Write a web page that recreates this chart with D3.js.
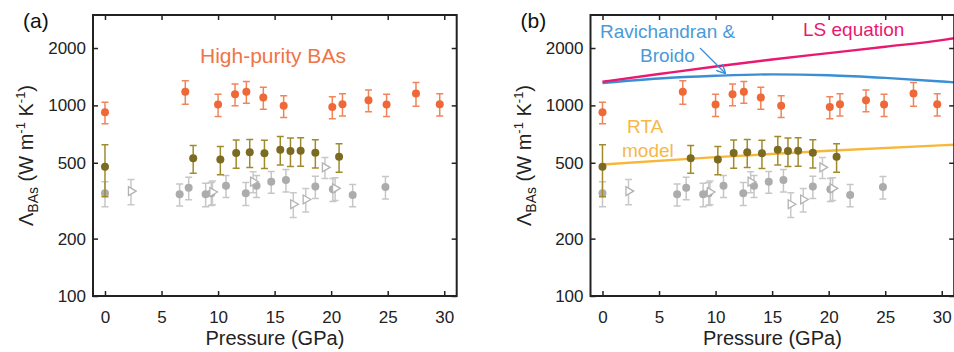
<!DOCTYPE html>
<html>
<head>
<meta charset="utf-8">
<script src="https://cdn.jsdelivr.net/npm/d3@7"></script>
<style>
  html, body { margin: 0; padding: 0; background: #fff; }
  svg { display: block; font-family: "Liberation Sans", Arial, sans-serif; }
</style>
</head>
<body>
<script>
// Thermal conductivity of BAs vs pressure, two panels sharing the same data

const pressureTicks = [0, 5, 10, 15, 20, 25, 30];
const kappaTicks = [100, 200, 500, 1000, 2000];

// high-purity BAs (orange)
const orangeP = [0, 7.1, 10.0, 11.5, 12.5, 14.0, 15.8, 20.1, 21.0, 23.3, 24.9, 27.5, 29.6];
const orangeK = [920, 1180, 1010, 1145, 1180, 1100, 995, 980, 1015, 1065, 1010, 1155, 1015];
const orangeErr = [120, 165, 135, 150, 155, 145, 130, 130, 135, 140, 135, 165, 135];

// olive series
const oliveP = [0, 7.8, 10.2, 11.6, 12.8, 14.1, 15.5, 16.4, 17.3, 18.6, 20.7];
const oliveK = [477, 528, 520, 563, 567, 561, 586, 576, 578, 565, 538];
const oliveErr = [145, 88, 88, 95, 95, 95, 100, 98, 98, 95, 92];

// grey filled circles
const greyP = [0, 6.6, 7.4, 8.9, 9.4, 10.7, 12.45, 13.4, 14.7, 16.0, 18.6, 20.15, 21.9, 24.8];
const greyK = [346, 342, 370, 342, 346, 379, 346, 379, 398, 406, 375, 363, 339, 373];
const greyErr = [52, 45, 50, 48, 48, 50, 48, 50, 52, 55, 50, 50, 45, 50];

// grey open triangles
const triP = [2.3, 9.5, 13.1, 16.65, 17.75, 19.45, 20.35];
const triK = [355, 351, 398, 303, 321, 473, 367];
const triErr = [54, 50, 50, 45, 45, 60, 50];

// model curves (panel b)
const lsP = [0, 5, 10, 15, 20, 25, 30, 31.1];
const lsK = [1330, 1460, 1600, 1740, 1880, 2030, 2200, 2250];
const rbP = [0, 5, 10, 15, 20, 25, 30, 31.1];
const rbK = [1310, 1385, 1430, 1455, 1440, 1395, 1335, 1320];
const rtaP = [0, 10, 20, 31.1];
const rtaK = [490, 535, 578, 622];

const W = 954, H = 352;
const plotW = 363.7, plotTop = 15, plotBottom = 296;

const svg = d3.select("body").append("svg")
  .attr("width", W).attr("height", H);

const x = d3.scaleLinear().domain([-1.06, 31.1]).range([0, plotW]);
const y = d3.scaleLog().domain([100, 2980]).range([plotBottom, plotTop]);

const zip = (ps, ks, es) => ps.map((p, i) => ({ p, k: ks[i], e: es ? es[i] : 0 }));

function errorBars(g, data, color) {
  const cap = 3.5;
  const eb = g.append("g").attr("stroke", color).attr("stroke-width", 1.5).attr("fill", "none");
  data.forEach((d) => {
    const x0 = x(d.p), yt = y(d.k + d.e), yb = y(d.k - d.e);
    eb.append("line").attr("x1", x0).attr("x2", x0).attr("y1", yt).attr("y2", yb);
    eb.append("line").attr("x1", x0 - cap).attr("x2", x0 + cap).attr("y1", yt).attr("y2", yt);
    eb.append("line").attr("x1", x0 - cap).attr("x2", x0 + cap).attr("y1", yb).attr("y2", yb);
  });
}

function circles(g, data, color) {
  g.append("g").selectAll("circle").data(data).join("circle")
    .attr("cx", (d) => x(d.p)).attr("cy", (d) => y(d.k))
    .attr("r", 4).attr("fill", color);
}

function drawPanel(left, label, withModels) {
  const g = svg.append("g").attr("transform", `translate(${left},0)`);

  const clip = "clip-" + label;
  g.append("clipPath").attr("id", clip)
    .append("rect").attr("x", 0).attr("y", plotTop).attr("width", plotW).attr("height", plotBottom - plotTop);

  // axes with inward ticks
  const axFont = (sel) => sel.selectAll("text")
    .style("font-size", "17px").attr("fill", "#222");

  g.append("g").attr("transform", `translate(0,${plotBottom})`)
    .call(d3.axisBottom(x).tickValues(pressureTicks).tickSizeInner(-5).tickSizeOuter(0).tickPadding(15))
    .call((s) => s.select(".domain").remove())
    .call(axFont);
  g.append("g").attr("transform", `translate(0,${plotTop})`)
    .call(d3.axisTop(x).tickValues(pressureTicks).tickSizeInner(-5).tickSizeOuter(0).tickFormat(""))
    .call((s) => s.select(".domain").remove());
  g.append("g")
    .call(d3.axisLeft(y).tickValues(kappaTicks).tickFormat(d3.format("d")).tickSizeInner(-5).tickSizeOuter(0).tickPadding(7))
    .call((s) => s.select(".domain").remove())
    .call(axFont);
  g.append("g").attr("transform", `translate(${plotW},0)`)
    .call(d3.axisRight(y).tickValues(kappaTicks).tickSizeInner(-5).tickSizeOuter(0).tickFormat(""))
    .call((s) => s.select(".domain").remove());
  g.selectAll(".tick line").attr("stroke", "#222").attr("stroke-width", 1.5);

  const plot = g.append("g").attr("clip-path", `url(#${clip})`);

  if (withModels) {
    const line = d3.line().x((d) => x(d.p)).y((d) => y(d.k)).curve(d3.curveMonotoneX);
    plot.append("path").datum(zip(rtaP, rtaK)).attr("d", line)
      .attr("fill", "none").attr("stroke", "#f7b73a").attr("stroke-width", 2.4);
    plot.append("path").datum(zip(rbP, rbK)).attr("d", line)
      .attr("fill", "none").attr("stroke", "#3a8fd4").attr("stroke-width", 2.4);
    plot.append("path").datum(zip(lsP, lsK)).attr("d", line)
      .attr("fill", "none").attr("stroke", "#e8196f").attr("stroke-width", 2.4);
  }

  // grey circles and triangles
  const grey = zip(greyP, greyK, greyErr);
  const tri = zip(triP, triK, triErr);
  errorBars(plot, grey, "#c6c6c6");
  errorBars(plot, tri, "#c9c9c9");
  circles(plot, grey, "#acacac");
  plot.append("g").selectAll("path").data(tri).join("path")
    .attr("transform", (d) => `translate(${x(d.p)},${y(d.k)}) rotate(90)`)
    .attr("d", d3.symbol(d3.symbolTriangle, 34))
    .attr("fill", "#fff").attr("stroke", "#b3b3b3").attr("stroke-width", 1.3);

  const olive = zip(oliveP, oliveK, oliveErr);
  errorBars(plot, olive, "#a08b2c");
  circles(plot, olive, "#7b6a22");

  const orange = zip(orangeP, orangeK, orangeErr);
  errorBars(plot, orange, "#f0845a");
  circles(plot, orange, "#ee6838");

  // frame
  g.append("rect").attr("x", 0).attr("y", plotTop).attr("width", plotW).attr("height", plotBottom - plotTop)
    .attr("fill", "none").attr("stroke", "#222").attr("stroke-width", 2);

  // axis labels
  g.append("text").attr("x", plotW / 2).attr("y", 345).attr("text-anchor", "middle")
    .style("font-size", "20px").attr("fill", "#222").text("Pressure (GPa)");

  const yl = g.append("text")
    .attr("transform", `translate(-60,${(plotTop + plotBottom) / 2}) rotate(-90)`)
    .attr("text-anchor", "middle").style("font-size", "20px").attr("fill", "#222");
  yl.append("tspan").text("\u039B");
  yl.append("tspan").attr("dy", 5).style("font-size", "14px").text("BAs");
  yl.append("tspan").attr("dy", -5).text(" (W m");
  yl.append("tspan").attr("dy", -8).style("font-size", "13px").text("-1");
  yl.append("tspan").attr("dy", 8).text(" K");
  yl.append("tspan").attr("dy", -8).style("font-size", "13px").text("-1");
  yl.append("tspan").attr("dy", 8).text(")");

  g.append("text").attr("x", -70).attr("y", 28)
    .style("font-size", "21px").attr("fill", "#111").text(`(${label})`);

  if (!withModels) {
    g.append("text").attr("x", 107).attr("y", 63)
      .style("font-size", "21px").attr("fill", "#f07446").text("High-purity BAs");
  } else {
    const txt = (tx, ty, color, s) => g.append("text").attr("x", tx).attr("y", ty)
      .style("font-size", "19px").attr("fill", color).text(s);
    txt(9.5, 38, "#4a9ad8", "Ravichandran &");
    txt(49.5, 62, "#4a9ad8", "Broido");
    txt(212.5, 36, "#e8196f", "LS equation");
    txt(36.5, 133, "#f6b84a", "RTA");
    txt(31.5, 157, "#f6b84a", "model");

    svg.append("defs").append("marker").attr("id", "arrowB")
      .attr("viewBox", "0 0 10 10").attr("refX", 9).attr("refY", 5)
      .attr("markerWidth", 7).attr("markerHeight", 7).attr("orient", "auto")
      .append("path").attr("d", "M0,0 L10,5 L0,10").attr("fill", "none")
      .attr("stroke", "#3a8fd4").attr("stroke-width", 1.6);
    g.append("line").attr("x1", 109.5).attr("y1", 48).attr("x2", 134.5).attr("y2", 73)
      .attr("stroke", "#3a8fd4").attr("stroke-width", 1.3).attr("marker-end", "url(#arrowB)");
  }
}

drawPanel(93, "a", false);
drawPanel(590.5, "b", true);
</script>
</body>
</html>
